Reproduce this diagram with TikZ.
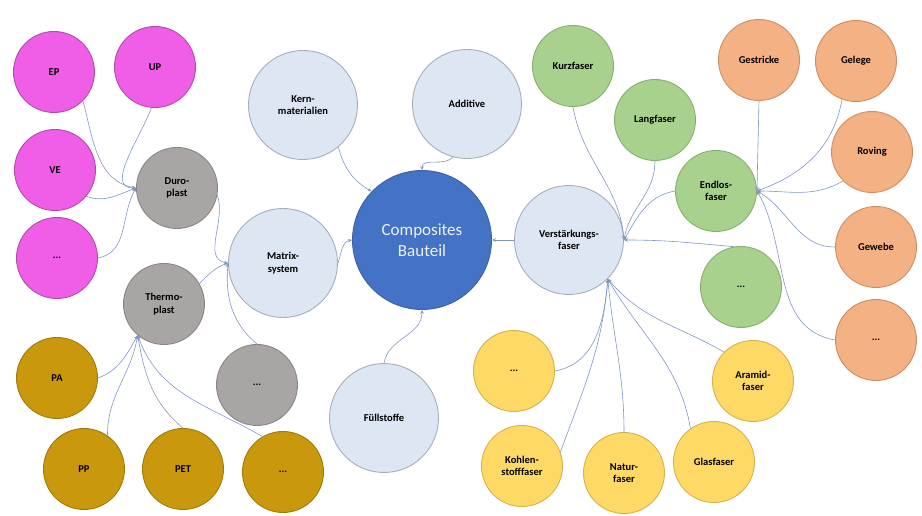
\documentclass[tikz,border=0pt]{standalone}
\usepackage{fontspec}
\setmainfont{Carlito}
\usetikzlibrary{arrows.meta,positioning}
\definecolor{ballpink}{HTML}{F05EE8}
\definecolor{pinkline}{HTML}{B04AAA}
\definecolor{ballgray}{HTML}{A9A5A5}
\definecolor{grayline}{HTML}{8A8686}
\definecolor{ballgold}{HTML}{C9980C}
\definecolor{goldline}{HTML}{A07A08}
\definecolor{ballyellow}{HTML}{FFD966}
\definecolor{yellowline}{HTML}{D4B24A}
\definecolor{ballgreen}{HTML}{A9D18E}
\definecolor{greenline}{HTML}{86AE6C}
\definecolor{ballorange}{HTML}{F4B183}
\definecolor{orangeline}{HTML}{CC8E63}
\definecolor{ballblue}{HTML}{DDE6F3}
\definecolor{blueline}{HTML}{A8AEB8}
\definecolor{mainblue}{HTML}{4472C4}
\definecolor{mainline}{HTML}{3A62A8}
\definecolor{linkblue}{HTML}{8096C4}

\begin{document}
\begin{tikzpicture}[on grid,auto,
   ball/.style={circle,draw,line width=0.9pt,minimum size=81pt,inner sep=0pt,
      align=center,font=\bfseries\fontsize{10.5}{12.5}\selectfont},
   pinkball/.style={ball,fill=ballpink,draw=pinkline},
   grayball/.style={ball,fill=ballgray,draw=grayline},
   goldball/.style={ball,fill=ballgold,draw=goldline},
   yellowball/.style={ball,fill=ballyellow,draw=yellowline},
   greenball/.style={ball,fill=ballgreen,draw=greenline},
   orangeball/.style={ball,fill=ballorange,draw=orangeline},
   blueball/.style={ball,fill=ballblue,draw=blueline,minimum size=109pt},
   mainball/.style={ball,fill=mainblue,draw=mainline,minimum size=139pt,
      text=white!90!mainblue,font=\fontsize{17}{21}\selectfont},
   link/.style={draw=linkblue,line width=0.6pt,-{Stealth[length=4pt,width=3.5pt]}}]
   \node [mainball] (Comp) {Composites\\Bauteil};
   \useasboundingbox (-422pt,-276pt) rectangle (500pt,240pt);
   % first ring
   \node [blueball] (Kern) [above left=135pt and 119pt of Comp] {Kern-\\materialien};
   \node [blueball] (Add) [above right=136pt and 45pt of Comp] {Additive};
   \node [blueball] (Matrix) [below left=23pt and 139pt of Comp] {Matrix-\\system};
   \node [blueball] (Fuell) [below left=178pt and 38pt of Comp] {Füllstoffe};
   \node [blueball] (Verst) [right=147pt of Comp] {Verstärkungs-\\faser};
   % matrix side
   \node [grayball] (Duro) [above left=75pt and 106pt of Matrix] {Duro-\\plast};
   \node [grayball] (Thermo) [below left=41pt and 119pt of Matrix] {Thermo-\\plast};
   \node [grayball] (GrayDots) [below left=122pt and 26pt of Matrix] {...};
   \node [pinkball] (EP) [above left=116pt and 123pt of Duro] {EP};
   \node [pinkball] (UP) [above left=121pt and 22pt of Duro] {UP};
   \node [pinkball] (VE) [above left=18pt and 122pt of Duro] {VE};
   \node [pinkball] (PinkDots) [below left=70pt and 120pt of Duro] {...};
   \node [goldball] (PA) [below left=74pt and 107pt of Thermo] {PA};
   \node [goldball] (PP) [below left=165pt and 80pt of Thermo] {PP};
   \node [goldball] (PET) [below right=165pt and 19pt of Thermo] {PET};
   \node [goldball] (GoldDots) [below right=168pt and 119pt of Thermo] {...};
   % fibre side
   \node [greenball] (Kurz) [above right=174pt and 4pt of Verst] {Kurzfaser};
   \node [greenball] (Lang) [above right=120pt and 86pt of Verst] {Langfaser};
   \node [greenball] (Endlos) [above right=49pt and 147pt of Verst] {Endlos-\\faser};
   \node [greenball] (GreenDots) [below right=47pt and 172pt of Verst] {...};
   \node [yellowball] (YellowDots) [below left=131pt and 55pt of Verst] {...};
   \node [yellowball] (Kohlen) [below left=226pt and 47pt of Verst] {Kohlen-\\stofffaser};
   \node [yellowball] (Natur) [below right=233pt and 55pt of Verst] {Natur-\\faser};
   \node [yellowball] (Glas) [below right=222pt and 145pt of Verst] {Glasfaser};
   \node [yellowball] (Aramid) [below right=141pt and 184pt of Verst] {Aramid-\\faser};
   \node [orangeball] (Gestricke) [above right=131pt and 43pt of Endlos] {Gestricke};
   \node [orangeball] (Gelege) [above right=130pt and 140pt of Endlos] {Gelege};
   \node [orangeball] (Roving) [above right=39pt and 156pt of Endlos] {Roving};
   \node [orangeball] (Gewebe) [below right=56pt and 160pt of Endlos] {Gewebe};
   \node [orangeball] (OrangeDots) [below right=149pt and 160pt of Endlos] {...};

   % links into the part
   \draw [link] (Kern.-50) to [out=-75,in=150] (Comp.136);
   \draw [link] (Add.-105) to [out=-130,in=90] (Comp.north);
   \draw [link] (Matrix.east) to [out=70,in=190] (Comp.west);
   \draw [link] (Fuell.north) to [out=80,in=-90] (Comp.south);
   \draw [link] (Verst.west) -- (Comp.east);
   % matrix links
   \draw [link] (Duro.-10) to [out=-70,in=170] (Matrix.west);
   \draw [link] (Thermo.30) to [out=45,in=200] (Matrix.west);
   \draw [link] (GrayDots.north) to [out=140,in=-95] (Matrix.west);
   \draw [link] (EP.-45) to [out=-75,in=170] (Duro.west);
   \draw [link] (UP.-95) to [out=-110,in=180] (Duro.west);
   \draw [link] (VE.-40) to [out=-20,in=200] (Duro.west);
   \draw [link] (PinkDots.east) to [out=10,in=240] (Duro.west);
   \draw [link] (PA.east) to [out=20,in=240] (Thermo.230);
   \draw [link] (PP.55) to [out=90,in=260] (Thermo.230);
   \draw [link] (PET.north) to [out=140,in=-80] (Thermo.230);
   \draw [link] (GoldDots.120) to [out=150,in=-70] (Thermo.230);
   % fibre links
   \draw [link] (Kurz.south) to [out=-80,in=95] (Verst.east);
   \draw [link] (Lang.south) to [out=-90,in=80] (Verst.east);
   \draw [link] (Endlos.west) to [out=190,in=60] (Verst.east);
   \draw [link] (GreenDots.100) to [out=175,in=0] (Verst.east);
   \draw [link] (YellowDots.east) to [out=10,in=-95] (Verst.-45);
   \draw [link] (Kohlen.20) to [out=70,in=-95] (Verst.-45);
   \draw [link] (Natur.north) to [out=90,in=-85] (Verst.-45);
   \draw [link] (Glas.125) to [out=100,in=-60] (Verst.-45);
   \draw [link] (Aramid.135) to [out=150,in=-50] (Verst.-45);
   \draw [link] (Gestricke.south) -- (Endlos.east);
   \draw [link] (Gelege.-110) to [out=-100,in=20] (Endlos.east);
   \draw [link] (Roving.-135) to [out=-150,in=0] (Endlos.east);
   \draw [link] (Gewebe.west) to [out=180,in=-30] (Endlos.east);
   \draw [link] (OrangeDots.west) to [out=170,in=-60] (Endlos.east);
\end{tikzpicture}
\end{document}
